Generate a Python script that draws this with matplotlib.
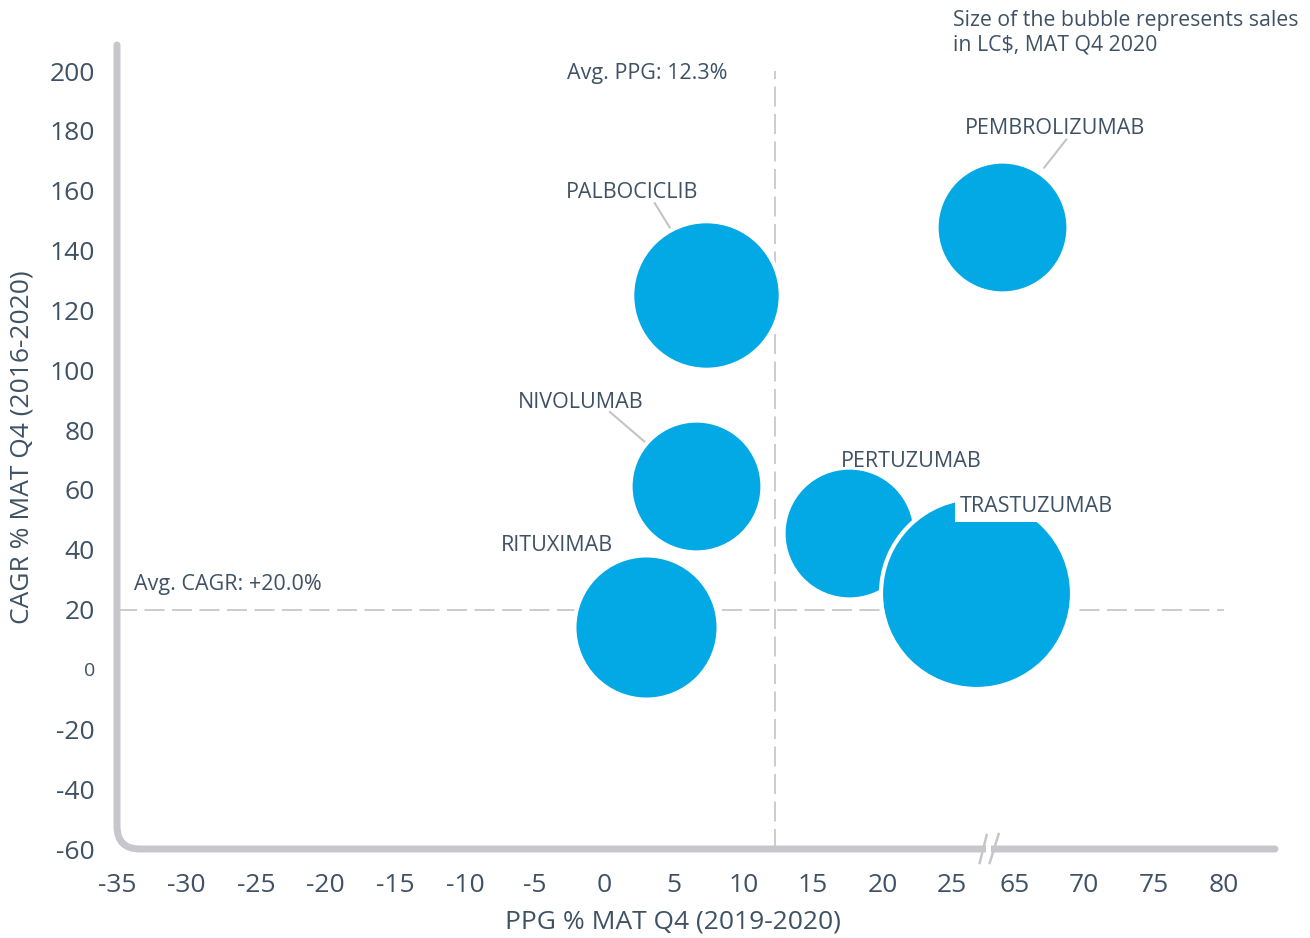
import matplotlib.pyplot as plt
from matplotlib.path import Path
from matplotlib.patches import PathPatch
from matplotlib.transforms import IdentityTransform, ScaledTranslation

plt.rcParams['font.family'] = ['Open Sans', 'DejaVu Sans']

# --- data ------------------------------------------------------------------
drugs = ['PEMBROLIZUMAB', 'PALBOCICLIB', 'NIVOLUMAB', 'PERTUZUMAB', 'TRASTUZUMAB', 'RITUXIMAB']
ppg = [64.1, 7.3, 6.6, 17.6, 26.7, 3.0]            # PPG % MAT Q4 (2019-2020)
cagr = [148.0, 125.1, 61.3, 45.6, 25.5, 14.2]      # CAGR % MAT Q4 (2016-2020)
sales = [4.1, 5.2, 4.1, 4.1, 8.6, 4.9]             # relative sales, LC$ MAT Q4 2020

avg_ppg = 12.3
avg_cagr = 20.0

x_ticks_low = [-35, -30, -25, -20, -15, -10, -5, 0, 5, 10, 15, 20, 25]
x_ticks_high = [65, 70, 75, 80]
y_ticks = [-60, -40, -20, 0, 20, 40, 60, 80, 100, 120, 140, 160, 180, 200]

# --- styling ----------------------------------------------------------------
BUBBLE = '#02a9e4'
TEXT = '#3f5265'
AXIS = '#c6c6cc'
DASH = '#c3c3c8'
BREAK_SHIFT = 35.5   # axis jumps from 25 straight to 65
BREAK_AT = 27.7
SIZE_SCALE = 2200
LABEL_FS = 15.5

# label offsets (pixels) from the bubble centre, leader lines as (start, end)
label_offsets = {
    'PEMBROLIZUMAB': (53, 98),
    'PALBOCICLIB': (-74, 103),
    'NIVOLUMAB': (-115, 84),
    'PERTUZUMAB': (62, 72),
    'TRASTUZUMAB': (61, 87),
    'RITUXIMAB': (-89, 81),
}
leaders = {
    'PEMBROLIZUMAB': ((64, 87), (42, 59)),
    'PALBOCICLIB': ((-51, 92), (-35, 66)),
    'NIVOLUMAB': ((-86, 74), (-51, 44)),
}


def to_axis(x):
    return x if x < 40 else x - BREAK_SHIFT


def anchored(ax, x, y):
    # pixel offsets around a data point
    return IdentityTransform() + ScaledTranslation(x, y, ax.transData)


fig = plt.figure(figsize=(13.1, 9.38), dpi=100)
ax = fig.add_axes([117 / 1310, 89 / 938, 1158 / 1310, 804 / 938])
ax.set_xlim(-35, 48.2)
ax.set_ylim(-60, 208.7)
for s in ax.spines.values():
    s.set_visible(False)

# rounded L-shaped axis line
cx, cy = 23 / 1158, 23 / 804
verts = [(0, 1), (0, cy), (0, 0), (cx, 0), (1, 0)]
codes = [Path.MOVETO, Path.LINETO, Path.CURVE3, Path.CURVE3, Path.LINETO]
ax.add_patch(PathPatch(Path(verts, codes), transform=ax.transAxes, fill=False,
                       lw=5, ec=AXIS, capstyle='round', clip_on=False, zorder=2))

# break marks on the x axis
tb = anchored(ax, BREAK_AT, -60)
ax.plot([-4, 1], [0, 0], color='white', lw=6, transform=tb, clip_on=False, zorder=4,
        solid_capstyle='butt')
ax.plot([-10, -3], [-14, 14], color=AXIS, lw=1.8, transform=tb, clip_on=False, zorder=5)
ax.plot([0, 9], [-14, 15], color=AXIS, lw=1.8, transform=tb, clip_on=False, zorder=5)

# average lines
dash = (0, (12, 4.5))
ax.plot([avg_ppg, avg_ppg], [-60, 200], color=DASH, lw=1.2, linestyle=dash, zorder=1)
ax.plot([-35, to_axis(80)], [avg_cagr, avg_cagr], color=DASH, lw=1.2, linestyle=dash, zorder=1)
ax.annotate(f'Avg. PPG: {avg_ppg:.1f}%', xy=(avg_ppg, 200), xytext=(-48, -2),
            textcoords='offset pixels', ha='right', va='center', fontsize=LABEL_FS, color=TEXT)
ax.annotate(f'Avg. CAGR: +{avg_cagr:.1f}%', xy=(-35, avg_cagr), xytext=(17, 25),
            textcoords='offset pixels', ha='left', va='center', fontsize=LABEL_FS, color=TEXT)

# bubbles
xs = [to_axis(v) for v in ppg]
for name, x, y, s in zip(drugs, xs, cagr, sales):
    ax.scatter(x, y, s=s * SIZE_SCALE, color=BUBBLE, edgecolors='white', linewidths=3,
               zorder=3)
    dx, dy = label_offsets[name]
    box = None
    if name == 'TRASTUZUMAB':
        box = dict(boxstyle='square,pad=0.25', fc='white', ec='none')
    ax.annotate(name, xy=(x, y), xytext=(dx, dy), textcoords='offset pixels',
                ha='center', va='center', fontsize=LABEL_FS, color=TEXT, bbox=box, zorder=6)
    if name in leaders:
        (x0, y0), (x1, y1) = leaders[name]
        ax.plot([x0, x1], [y0, y1], color=DASH, lw=1.5, transform=anchored(ax, x, y),
                zorder=2)

# ticks
ax.set_xticks(x_ticks_low + [to_axis(v) for v in x_ticks_high],
              [str(v) for v in x_ticks_low + x_ticks_high])
ax.set_yticks(y_ticks, [str(v) for v in y_ticks])
ax.tick_params(axis='both', length=0, labelsize=19, labelcolor=TEXT)
ax.tick_params(axis='x', pad=17.5)
ax.tick_params(axis='y', pad=16)
for lab in ax.get_yticklabels():
    if lab.get_text() == '0':
        lab.set_fontsize(14)

fig.text(673 / 1310, 1 - 922 / 938, 'PPG % MAT Q4 (2019-2020)', ha='center', va='center',
         fontsize=19, color=TEXT)
fig.text(22 / 1310, 1 - 447 / 938, 'CAGR % MAT Q4 (2016-2020)', ha='center', va='center',
         rotation=90, fontsize=19, color=TEXT)
fig.text(953 / 1310, 1 - 10 / 938, 'Size of the bubble represents sales\nin LC$, MAT Q4 2020',
         ha='left', va='top', fontsize=15.3, color=TEXT, linespacing=1.2)

fig.savefig('out.png', dpi=100)
